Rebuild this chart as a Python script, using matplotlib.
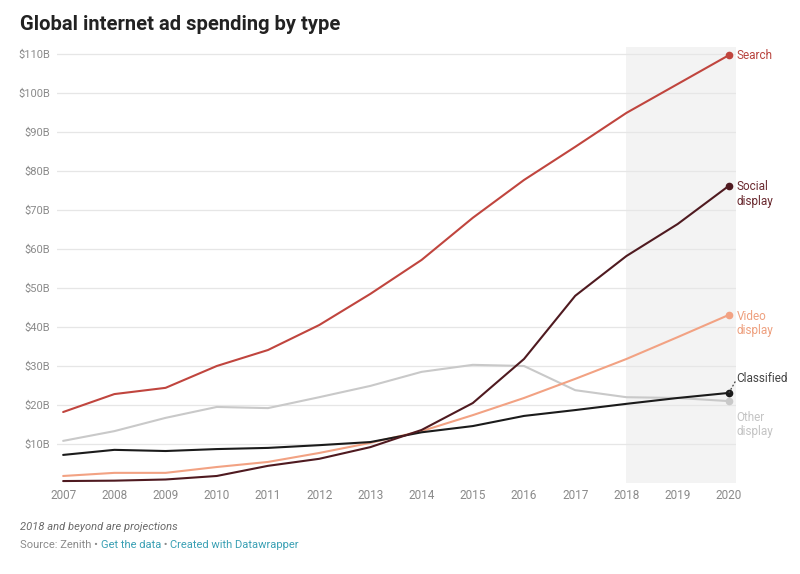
import matplotlib
matplotlib.use("Agg")
import matplotlib.pyplot as plt
from matplotlib.offsetbox import TextArea, HPacker, AnchoredOffsetbox

plt.rcParams['font.family'] = ['Roboto', 'DejaVu Sans']

years = list(range(2007, 2021))
search = [18.2, 22.8, 24.4, 30.0, 34.1, 40.5, 48.5, 57.2, 68.0, 77.7, 86.2, 94.9, 102.3, 109.7]
social = [0.5, 0.6, 0.9, 1.8, 4.4, 6.2, 9.2, 13.6, 20.5, 31.8, 48.0, 58.2, 66.4, 76.2]
video = [1.8, 2.6, 2.6, 4.1, 5.4, 7.7, 10.3, 13.3, 17.4, 21.8, 26.7, 31.8, 37.4, 43.1]
other = [10.8, 13.3, 16.7, 19.5, 19.2, 22.0, 24.9, 28.5, 30.3, 30.0, 23.8, 22.0, 21.8, 21.0]
classified = [7.2, 8.5, 8.2, 8.7, 9.0, 9.7, 10.5, 13.0, 14.6, 17.2, 18.7, 20.3, 21.8, 23.1]
ytick_vals = [10, 20, 30, 40, 50, 60, 70, 80, 90, 100, 110]
ytick_labels = ["$%dB" % v for v in ytick_vals]

series = [
    ("Other\ndisplay", other, "#c9c9c9"),
    ("Video\ndisplay", video, "#f2a283"),
    ("Classified", classified, "#1b1b1b"),
    ("Social\ndisplay", social, "#4f1a20"),
    ("Search", search, "#c0453e"),
]

fig = plt.figure(figsize=(8, 5.74), dpi=100)
W, H = 800, 574
left, right, top, bottom = 57, 736, 47, 483
ax = fig.add_axes([left / W, 1 - bottom / H, (right - left) / W, (bottom - top) / H])
ax.set_xlim(2006.88, 2020.14)
ax.set_ylim(0, 111.8)

ax.axvspan(2018, 2020.14, color="#f3f3f3", zorder=0, lw=0)
for v in ytick_vals:
    ax.axhline(v, color="#e6e6e6", lw=0.9, zorder=1)

for name, vals, col in series:
    ax.plot(years, vals, color=col, lw=1.5, zorder=3, solid_capstyle='round')
    ax.plot([years[-1]], [vals[-1]], 'o', color=col, ms=4.5, zorder=4)

# labels at right
lab_x = 2020.15
fs = 8.5
ax.text(lab_x, search[-1], "Search", color="#b8443e", fontsize=fs, va="center", ha="left", clip_on=False)
ax.text(lab_x, social[-1] + 1.4, "Social\ndisplay", color="#6a2a30", fontsize=fs, va="top", ha="left",
        clip_on=False, linespacing=1.15)
ax.text(lab_x, video[-1] + 1.3, "Video\ndisplay", color="#eea07f", fontsize=fs, va="top", ha="left",
        clip_on=False, linespacing=1.15)
ax.text(lab_x, classified[-1] + 3.6, "Classified", color="#444444", fontsize=fs, va="center", ha="left",
        clip_on=False)
ax.plot([years[-1], lab_x - 0.02], [classified[-1], classified[-1] + 3.0], ls=(0, (1.5, 1.5)),
        color="#444444", lw=0.9, clip_on=False, zorder=5)
ax.text(lab_x, other[-1] - 2.5, "Other\ndisplay", color="#c4c4c4", fontsize=fs, va="top", ha="left",
        clip_on=False, linespacing=1.15)

ax.set_yticks(ytick_vals)
ax.set_yticklabels(ytick_labels)
ax.set_xticks(years)
ax.set_xticklabels([str(y) for y in years])
ax.tick_params(axis='y', length=0, pad=5, labelsize=8, labelcolor="#8a8a8a")
ax.tick_params(axis='x', length=0, pad=4, labelsize=8.5, labelcolor="#8a8a8a")
for s in ax.spines.values():
    s.set_visible(False)
ax.set_facecolor("none")

fig.text(20 / W, 1 - 25 / H, "Global internet ad spending by type", fontsize=14.5, weight="bold",
         color="#222222", va="center", ha="left")
fig.text(20 / W, 1 - 527 / H, "2018 and beyond are projections", fontsize=8, style="italic",
         color="#6a6a6a", va="center", ha="left")

t1 = TextArea("Source: Zenith \u2022 ", textprops=dict(color="#8a8a8a", fontsize=8))
t2 = TextArea("Get the data", textprops=dict(color="#3aa0b4", fontsize=8))
t3 = TextArea(" \u2022 ", textprops=dict(color="#8a8a8a", fontsize=8))
t4 = TextArea("Created with Datawrapper", textprops=dict(color="#3aa0b4", fontsize=8))
box = HPacker(children=[t1, t2, t3, t4], align="baseline", pad=0, sep=0)
ab = AnchoredOffsetbox(loc="center left", child=box, pad=0, frameon=False,
                       bbox_to_anchor=(20 / W, 1 - 545 / H), bbox_transform=fig.transFigure,
                       borderpad=0)
fig.add_artist(ab)

fig.savefig("out.png", dpi=100, facecolor="white")
